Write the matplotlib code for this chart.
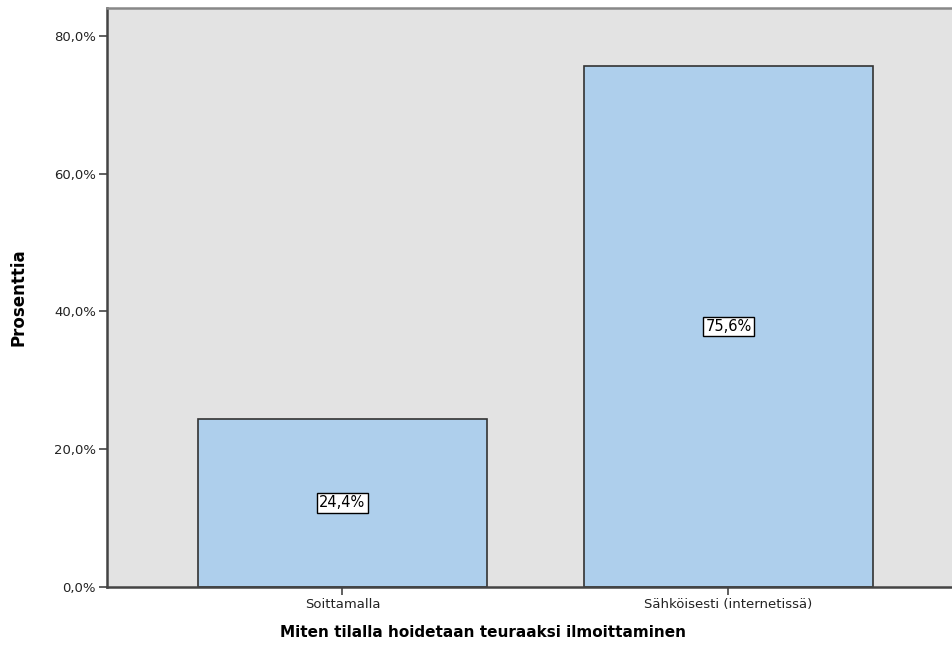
import matplotlib
matplotlib.use("Agg")
import matplotlib.pyplot as plt

categories = ["Soittamalla", "Sähköisesti (internetissä)"]
values = [24.4, 75.6]
yticks = [0, 20, 40, 60, 80]
ytick_labels = ["0,0%", "20,0%", "40,0%", "60,0%", "80,0%"]
bar_labels = ["24,4%", "75,6%"]

fig = plt.figure(figsize=(9.53, 6.46), dpi=100)
ax = fig.add_axes([107/953, 59/646, 1 - 107/953, 579/646])
ax.set_facecolor("#E3E3E3")

x = list(range(len(categories)))
ax.bar(x, values, width=0.749, color="#AECFEC", edgecolor="#333333", linewidth=1.2, zorder=2)
for xi, v, lab in zip(x, values, bar_labels):
    ax.text(xi, v / 2, lab, ha="center", va="center", fontsize=10.5, color="black",
            bbox=dict(boxstyle="square,pad=0.15", facecolor="white", edgecolor="black", linewidth=1), zorder=3)

ax.set_xlim(-0.61, 1.582)
ax.set_ylim(0, 84.06)
ax.set_yticks(yticks)
ax.set_yticklabels(ytick_labels, fontsize=9.5, color="#222222")
ax.set_xticks(x)
ax.set_xticklabels(categories, fontsize=9.5, color="#222222")
ax.tick_params(axis="both", direction="out", length=6, width=1.2, color="#444444", pad=2)

for s in ["left", "bottom"]:
    ax.spines[s].set_color("#444444")
    ax.spines[s].set_linewidth(1.8)
ax.spines["top"].set_color("#888888")
ax.spines["top"].set_linewidth(1.8)
ax.spines["right"].set_visible(False)

ax.set_ylabel("Prosenttia", fontsize=12, fontweight="bold")
ax.yaxis.set_label_coords((28 - 107) / 846, 0.5)
ax.set_xlabel("Miten tilalla hoidetaan teuraaksi ilmoittaminen", fontsize=11, fontweight="bold")
ax.xaxis.set_label_coords((483 - 107) / 846, (587 - 625) / 579)

fig.savefig("out.png", dpi=100)
